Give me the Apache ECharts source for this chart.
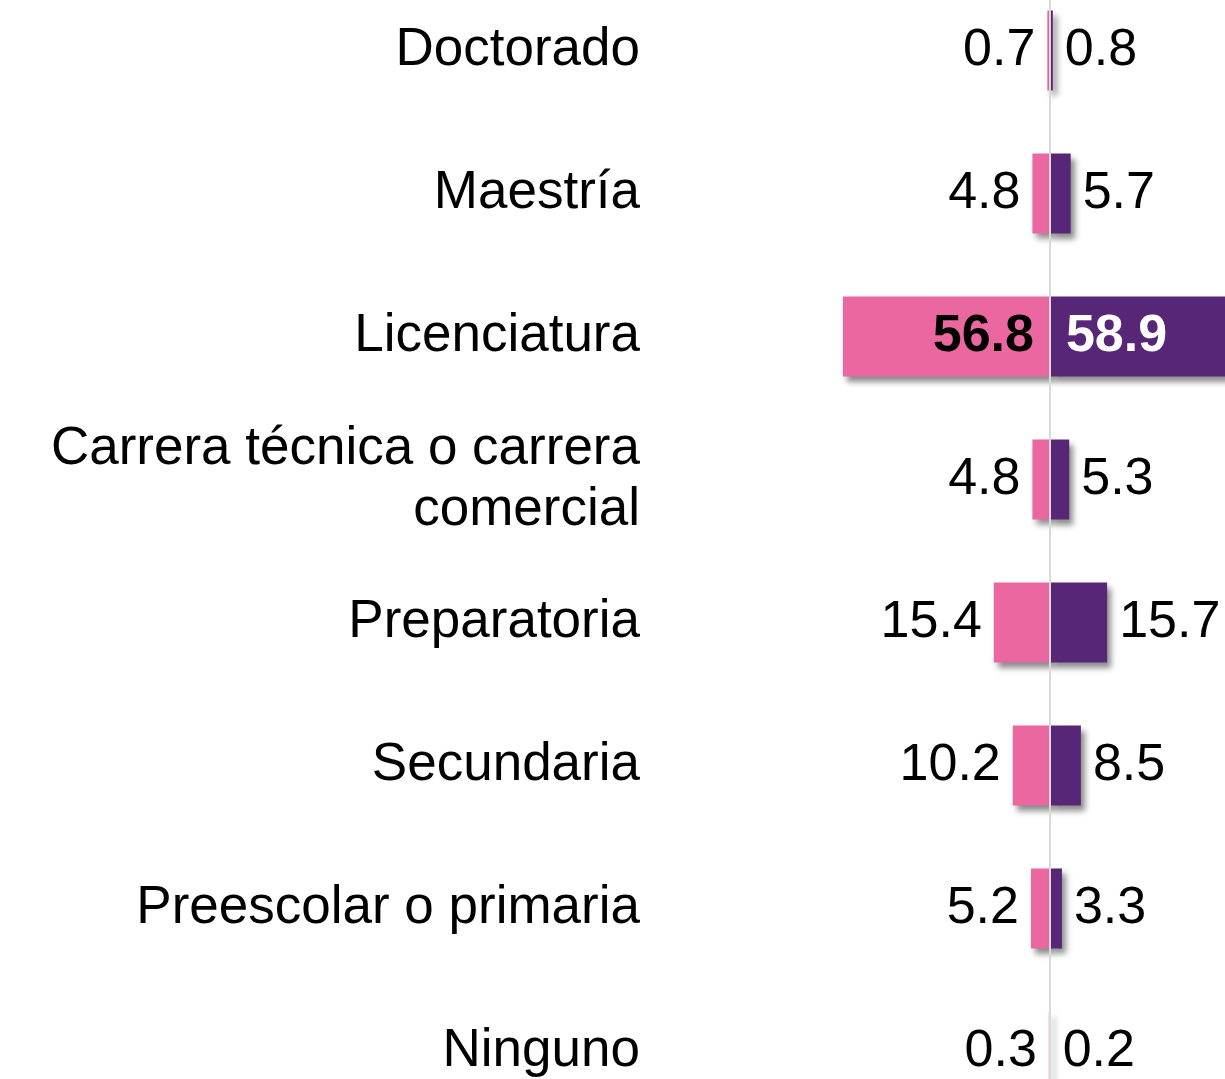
<!DOCTYPE html>
<html>
<head>
<meta charset="utf-8">
<script src="https://cdn.jsdelivr.net/npm/echarts@6/dist/echarts.min.js"></script>
<style>
  html, body { margin: 0; padding: 0; width: 1225px; height: 1079px; overflow: hidden; background: #fff; }
  /* el grafico es mas ancho/alto que la ventana: va recortado como en la imagen */
  #chart { position: absolute; left: 0; top: -21px; width: 1305px; height: 1144px; }
</style>
</head>
<body>
<div id="chart"></div>
<script>
  // datos
  const niveles = ['Doctorado', 'Maestría', 'Licenciatura', 'Carrera técnica o carrera\ncomercial',
                   'Preparatoria', 'Secundaria', 'Preescolar o primaria', 'Ninguno'];
  const mujeres = [0.7, 4.8, 56.8, 4.8, 15.4, 10.2, 5.2, 0.3];
  const hombres = [0.8, 5.7, 58.9, 5.3, 15.7, 8.5, 3.3, 0.2];
  const destacado = 'Licenciatura'; // etiqueta dentro de la barra

  const FONT = 'Liberation Sans, Arial, sans-serif';
  const ROSA = '#EB679F';
  const MORADO = '#582677';

  const sombra = {
    shadowColor: 'rgba(0, 0, 0, 0.45)',
    shadowBlur: 6,
    shadowOffsetX: 4,
    shadowOffsetY: 5
  };

  const chart = echarts.init(document.getElementById('chart'));

  const option = {
    animation: false,
    grid: { left: 660, right: 0, top: 0, bottom: 0, containLabel: false },
    xAxis: { type: 'value', min: -107, max: 70, show: false },
    yAxis: {
      type: 'category',
      data: niveles,
      inverse: true,
      axisLine: { show: false },
      axisTick: { show: false },
      splitLine: { show: false },
      axisLabel: {
        margin: 20,
        color: '#000',
        fontSize: 53,
        fontFamily: FONT,
        lineHeight: 61,
        align: 'right'
      }
    },
    series: [
      {
        name: 'Mujeres',
        type: 'bar',
        barWidth: 80,
        barGap: '-100%',
        data: mujeres.map((v, i) => {
          const d = { value: -v, itemStyle: { color: ROSA, ...sombra } };
          if (niveles[i] === destacado) {
            d.label = { position: 'insideRight', distance: 16, fontWeight: 'bold', color: '#000' };
          }
          return d;
        }),
        label: {
          show: true,
          position: 'left',
          distance: 12,
          fontSize: 52,
          fontFamily: FONT,
          color: '#000',
          formatter: p => Math.abs(p.value).toFixed(1)
        }
      },
      {
        name: 'Hombres',
        type: 'bar',
        barWidth: 80,
        z: 3,
        data: hombres.map((v, i) => {
          const d = { value: v, itemStyle: { color: MORADO, ...sombra } };
          if (niveles[i] === destacado) {
            d.label = { position: 'insideLeft', distance: 16, fontWeight: 'bold', color: '#fff' };
          }
          return d;
        }),
        label: {
          show: true,
          position: 'right',
          distance: 12,
          fontSize: 52,
          fontFamily: FONT,
          color: '#000',
          formatter: p => p.value.toFixed(1)
        },
        markLine: {
          silent: true,
          symbol: 'none',
          label: { show: false },
          lineStyle: { color: '#d9d9d9', width: 2, type: 'solid' },
          data: [{ xAxis: 0 }],
          z: 10
        }
      }
    ]
  };

  chart.setOption(option);
</script>
</body>
</html>
